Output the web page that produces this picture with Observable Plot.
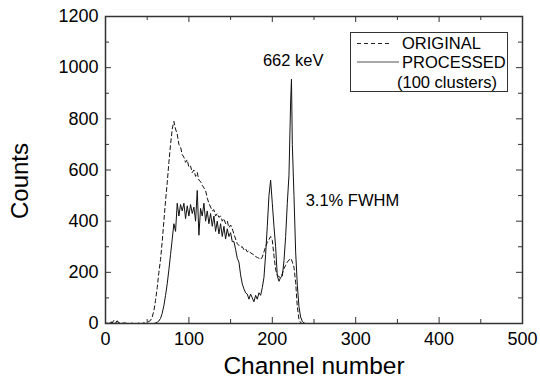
<!DOCTYPE html>
<html><head><meta charset="utf-8">
<script src="https://cdn.jsdelivr.net/npm/d3@7"></script>
<script src="https://cdn.jsdelivr.net/npm/@observablehq/plot@0.6"></script>
<style>
body{margin:0;background:#fff;font-family:"Liberation Sans",Arial,sans-serif;}
#wrap{position:relative;width:540px;height:390px;}
#legend{position:absolute;left:350px;top:32px;}
#ylab{position:absolute;left:0;top:0;}
</style></head><body><div id="wrap"></div>
<script>
const channels = [
0,2,4,6,8,10,12,14,16,18,
20,22,24,26,28,30,32,34,36,38,
40,42,44,46,48,50,52,54,56,58,
60,62,64,66,68,70,72,74,76,78,
80,82,84,86,88,90,92,94,96,98,
100,102,104,106,108,110,112,114,116,118,
120,122,124,126,128,130,132,134,136,138,
140,142,144,146,148,150,152,154,156,158,
160,162,164,166,168,170,172,174,176,178,
180,182,184,186,188,190,192,194,196,198,
200,202,204,206,208,210,212,214,216,218,
220,222,223,224,226,228,230,232,234,236,
238,240,244,250];
const original = [
0,2,0,8,3,12,5,10,4,2,
0,3,0,2,0,0,2,0,0,0,
2,0,0,3,0,5,8,12,25,50,
90,140,200,250,320,400,480,550,630,700,
760,790,760,740,700,690,660,650,630,640,
610,615,590,600,575,590,560,555,540,530,
520,490,470,455,440,445,420,430,415,420,
400,410,390,400,375,385,370,350,330,312,
305,298,300,288,292,280,285,276,272,268,
262,258,255,250,260,280,300,318,328,340,
325,265,210,190,182,180,195,215,228,240,
248,255,250,240,220,160,65,15,3,0,
0,0,0,0];
const processed = [
0,0,0,3,5,0,2,8,3,0,
0,0,2,0,0,0,0,0,0,0,
0,0,0,0,0,0,0,0,0,0,
2,5,10,20,40,70,110,155,210,270,
330,390,360,470,420,465,440,470,410,460,
420,465,430,455,400,520,345,450,420,470,
400,440,390,430,380,420,360,400,350,390,
340,380,330,370,340,355,320,320,290,255,
240,190,155,135,120,115,95,115,100,85,
110,95,120,110,140,180,270,380,500,560,
470,380,300,185,165,180,185,245,340,470,
580,870,955,700,500,280,150,65,25,8,
2,0,0,0];
const xTicks = [0,100,200,300,400,500];
const xMinor = [50,150,250,350,450];
const yTicks = [0,200,400,600,800,1000,1200];
const yMinor = [100,300,500,700,900,1100];
const peakLabel = [{channel:225, counts:1028, text:"662 keV"}];
const fwhmLabel = [{channel:240, counts:481, text:"3.1% FWHM"}];
const legendItems = ["ORIGINAL","PROCESSED","(100 clusters)"];
const yTitle = "Counts";
const xTitle = "Channel number";

const W=540,H=390,mL=105,mR=18,mT=16,mB=67;
const iw=W-mL-mR, ih=H-mT-mB;
const data = channels.map((c,i)=>({channel:c, original:original[i], processed:processed[i]}));
const font='"Liberation Sans",Arial,sans-serif';
const axisColor="#333";
const chart = Plot.plot({
  width:W, height:H, marginLeft:mL, marginRight:mR, marginTop:mT, marginBottom:mB,
  style:{fontFamily:font, background:"white", color:"black", overflow:"visible"},
  x:{domain:[0,500]}, y:{domain:[0,1200]},
  marks:[
    Plot.line(data,{x:"channel",y:"original",stroke:"#111",strokeWidth:1,strokeDasharray:"4,3"}),
    Plot.line(data,{x:"channel",y:"processed",stroke:"#111",strokeWidth:1}),
    Plot.axisX(xTicks,{tickSize:0,tickPadding:9,fontSize:18,label:null,tickFormat:d=>String(d)}),
    Plot.axisY(yTicks,{tickSize:0,tickPadding:7,fontSize:18,label:null,tickFormat:d=>String(d)}),
    Plot.tickX(xTicks,{x:d=>d,insetTop:ih-6,stroke:axisColor}),
    Plot.tickX(xTicks,{x:d=>d,insetBottom:ih-6,stroke:axisColor}),
    Plot.tickX(xMinor,{x:d=>d,insetTop:ih-4,stroke:axisColor}),
    Plot.tickX(xMinor,{x:d=>d,insetBottom:ih-4,stroke:axisColor}),
    Plot.tickY(yTicks,{y:d=>d,insetRight:iw-6,stroke:axisColor}),
    Plot.tickY(yTicks,{y:d=>d,insetLeft:iw-6,stroke:axisColor}),
    Plot.tickY(yMinor,{y:d=>d,insetRight:iw-4,stroke:axisColor}),
    Plot.tickY(yMinor,{y:d=>d,insetLeft:iw-4,stroke:axisColor}),
    Plot.frame({stroke:axisColor,strokeWidth:1.5}),
    Plot.text([xTitle],{frameAnchor:"bottom",dy:50,fontSize:24.5,fill:"black"}),
    Plot.text(peakLabel,{x:"channel",y:"counts",text:"text",fontSize:16.5,fill:"black"}),
    Plot.text(fwhmLabel,{x:"channel",y:"counts",text:"text",fontSize:16.5,textAnchor:"start",fill:"black"})
  ]
});
const wrap=document.getElementById("wrap");
wrap.appendChild(chart);

// y-axis title overlay
const yl=d3.select(wrap).append("svg").attr("id","ylab").attr("width",40).attr("height",390)
  .style("font-family",font);
yl.append("text").attr("transform","translate(19,181) rotate(-90)")
  .attr("text-anchor","middle").attr("dominant-baseline","central")
  .attr("font-size",24).attr("fill","black").text(yTitle);

// legend overlay
const lg=d3.select(wrap).append("svg").attr("id","legend").attr("width",159).attr("height",61)
  .style("font-family",font);
lg.append("rect").attr("x",0.5).attr("y",0.5).attr("width",157).attr("height",59)
  .attr("fill","white").attr("stroke","#333").attr("stroke-width",1);
lg.append("line").attr("x1",7).attr("x2",40).attr("y1",11.5).attr("y2",11.5)
  .attr("stroke","#222").attr("stroke-dasharray","4,3");
lg.append("line").attr("x1",7).attr("x2",49).attr("y1",30).attr("y2",30)
  .attr("stroke","#555").attr("stroke-width",1.2);
lg.append("text").attr("x",52).attr("y",16.5).attr("font-size",16.5).text(legendItems[0]);
lg.append("text").attr("x",52).attr("y",35.5).attr("font-size",16.5).text(legendItems[1]);
lg.append("text").attr("x",47).attr("y",55.5).attr("font-size",16.5).text(legendItems[2]);
</script></body></html>
